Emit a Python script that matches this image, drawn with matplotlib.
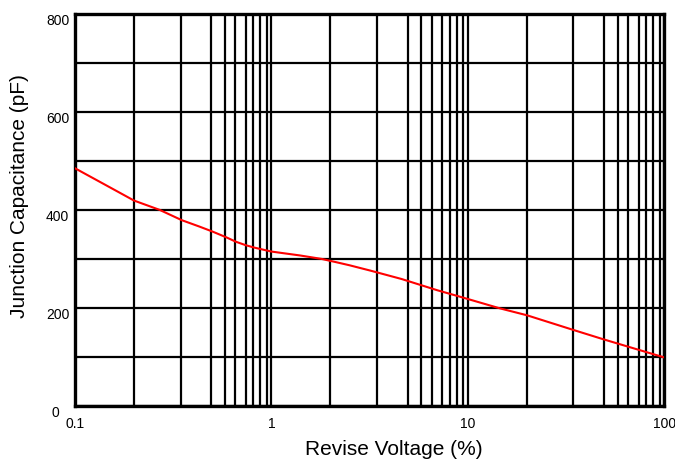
import numpy as np
import matplotlib.pyplot as plt
from matplotlib.transforms import ScaledTranslation

plt.rcParams['font.family'] = ['Liberation Sans', 'DejaVu Sans']

# curve
voltage = [0.1, 0.14, 0.2, 0.27, 0.35, 0.43, 0.5, 0.59, 0.66, 0.74, 0.82, 1,
           1.4, 1.8, 2.1, 2.5, 3.2, 4.6, 7, 9.1, 14.6, 20, 34.5, 49, 72, 100]
capacitance = [485, 453, 419, 400, 379, 366, 356, 344, 335, 328, 323, 315,
               307, 300, 294, 287, 276, 259, 236, 223, 199, 185, 155, 136, 116, 99]

decades = [0.1, 1, 10, 100]
decade_labels = ['0.1', '1', '10', '100']
# the grid of the original is not a standard log grid
grid_steps = [2.0, 3.45, 4.95, 5.8, 6.55, 7.4, 8.1, 8.8, 9.5]
cap_ticks = [0, 200, 400, 600, 800]

fig = plt.figure(figsize=(6.75, 4.64), dpi=100)
ax = fig.add_axes([0.111, 0.123, 0.873, 0.845])

ax.set_xscale('log')
ax.set_xlim(0.1, 100)
ax.set_ylim(0, 800)

minor_x = [d * s for d in decades[:-1] for s in grid_steps]
ax.set_xticks(decades)
ax.set_xticklabels(decade_labels)
ax.set_xticks(minor_x, minor=True)
ax.set_yticks(cap_ticks)
ax.set_yticks(np.arange(100, 800, 200), minor=True)

ax.grid(True, which='both', color='black', linewidth=1.6)
ax.set_axisbelow(True)

ax.plot(voltage, capacitance, color='red', linewidth=1.5, zorder=3)

for s in ax.spines.values():
    s.set_linewidth(2.4)

ax.tick_params(which='both', length=0)
ax.tick_params(axis='x', labelsize=10, pad=7)
ax.tick_params(axis='y', labelsize=10, pad=4)

# tick labels in the reference sit a little below their grid lines
for i, lab in enumerate(ax.get_yticklabels()):
    dx = -7 / 72 if i == 0 else 0
    lab.set_transform(lab.get_transform() + ScaledTranslation(dx, -3.6 / 72, fig.dpi_scale_trans))

ax.set_xlabel('Revise Voltage (%)', fontsize=15)
ax.set_ylabel('Junction Capacitance (pF)', fontsize=15)
ax.xaxis.set_label_coords(0.542, -0.085)
ax.yaxis.set_label_coords(-0.078, 0.538)

plt.savefig('out.png', dpi=100)
